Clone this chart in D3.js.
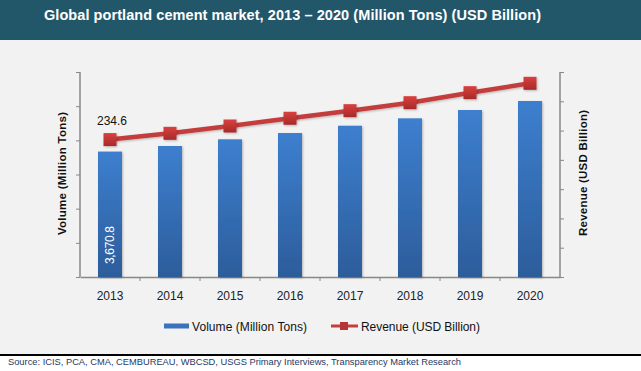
<!DOCTYPE html>
<html>
<head>
<meta charset="utf-8">
<script src="https://cdn.jsdelivr.net/npm/d3@7"></script>
<style>
  body { margin: 0; padding: 0; background: #fff; }
  svg { display: block; font-family: Arial, "Liberation Sans", sans-serif; }
</style>
</head>
<body>
<div id="chart-area"></div>
<script>
// chart data
const years = ["2013", "2014", "2015", "2016", "2017", "2018", "2019", "2020"];
const volume = [3670.8, 3834, 4030, 4214, 4428, 4644, 4887, 5151];
const revenue = [234.6, 245.3, 257.8, 271, 284, 297.6, 314.7, 330.7];
const volumeTicks = [0, 1000, 2000, 3000, 4000, 5000, 6000];
const revenueTicks = [0, 50, 100, 150, 200, 250, 300, 350];

const W = 641, H = 371;
const margin = {left: 80, right: 81, top: 72, bottom: 94};
const width = W - margin.left - margin.right;
const height = H - margin.top - margin.bottom;

const svg = d3.select("#chart-area").append("svg")
    .attr("width", W)
    .attr("height", H);

const defs = svg.append("defs");
const barGrad = defs.append("linearGradient").attr("id", "barGrad")
    .attr("x1", 0).attr("y1", 0).attr("x2", 0).attr("y2", 1);
barGrad.append("stop").attr("offset", "0%").attr("stop-color", "#3d7fcf");
barGrad.append("stop").attr("offset", "100%").attr("stop-color", "#2c5d9b");
const mkGrad = defs.append("linearGradient").attr("id", "mkGrad")
    .attr("x1", 0).attr("y1", 0).attr("x2", 0).attr("y2", 1);
mkGrad.append("stop").attr("offset", "0%").attr("stop-color", "#d9403f");
mkGrad.append("stop").attr("offset", "100%").attr("stop-color", "#a72a2a");
const shadow = defs.append("filter").attr("id", "shadow")
    .attr("x", "-30%").attr("y", "-30%").attr("width", "160%").attr("height", "160%");
shadow.append("feDropShadow").attr("dx", 1).attr("dy", 1).attr("stdDeviation", 1)
    .attr("flood-color", "#000").attr("flood-opacity", 0.25);

// backgrounds
svg.append("rect").attr("x", 0).attr("y", 0).attr("width", W).attr("height", 354).attr("fill", "#f2f2f2");
svg.append("rect").attr("x", 0).attr("y", 0).attr("width", W).attr("height", 40).attr("fill", "#22576a");
svg.append("rect").attr("x", 0).attr("y", 354).attr("width", W).attr("height", 2).attr("fill", "#000");

svg.append("text")
    .attr("x", 44).attr("y", 19.5)
    .attr("fill", "#fff")
    .attr("font-size", "14.5px")
    .attr("font-weight", "bold")
    .attr("textLength", 497)
    .text("Global portland cement market, 2013 \u2013 2020 (Million Tons) (USD Billion)");

svg.append("text")
    .attr("x", 8).attr("y", 364.5)
    .attr("fill", "#1f3864")
    .attr("font-size", "9.3px")
    .attr("textLength", 453)
    .text("Source: ICIS, PCA, CMA, CEMBUREAU, WBCSD, USGS Primary Interviews, Transparency Market Research");

const g = svg.append("g")
    .attr("transform", "translate(" + margin.left + ", " + margin.top + ")");

const x = d3.scaleBand().domain(years).range([0, width]).paddingInner(0.6).paddingOuter(0.3);
const xTicks = d3.scaleBand().domain(years).range([0, width]);
const yL = d3.scaleLinear().domain([0, 6000]).range([height, 0]);
const yR = d3.scaleLinear().domain([0, 350]).range([height, 0]);

// axes
const axL = g.append("g").attr("class", "left axis")
    .call(d3.axisLeft(yL).tickValues(volumeTicks).tickSize(4).tickFormat(""));
const axR = g.append("g").attr("class", "right axis")
    .attr("transform", "translate(" + width + ", 0)")
    .call(d3.axisRight(yR).tickValues(revenueTicks).tickSize(4).tickFormat(""));
const axB = g.append("g").attr("class", "bottom axis")
    .attr("transform", "translate(0, " + height + ")")
    .call(d3.axisBottom(xTicks).tickSize(0).tickPadding(14));
axB.selectAll("text").attr("font-size", "12px").attr("fill", "#222").attr("font-family", "Arial, 'Liberation Sans', sans-serif");
g.append("g").selectAll("line").data(years.slice(1))
    .enter().append("line")
    .attr("x1", d => xTicks(d)).attr("x2", d => xTicks(d))
    .attr("y1", height).attr("y2", height + 4)
    .attr("stroke", "#888");
[axL, axR, axB].forEach(a => {
    a.selectAll(".domain").attr("stroke", "#888").attr("stroke-width", 1.5);
    a.selectAll(".tick line").attr("stroke", "#888");
});
axL.select(".domain").attr("d", "M0," + height + "V0");
axR.select(".domain").attr("d", "M0," + height + "V0");

// bars
g.selectAll("rect.bar").data(volume)
    .enter().append("rect")
    .attr("class", "bar")
    .attr("x", (d, i) => x(years[i]))
    .attr("y", d => yL(d))
    .attr("width", x.bandwidth())
    .attr("height", d => height - yL(d))
    .attr("fill", "url(#barGrad)")
    .attr("filter", "url(#shadow)");

// bar label (first bar only)
g.append("text")
    .attr("transform", "translate(" + (x(years[0]) + x.bandwidth() / 2 + 3.5) + ", " + (height - 13) + ") rotate(-90)")
    .attr("fill", "#fff")
    .attr("font-size", "12px")
    .attr("textLength", 38)
    .text(d3.format(",.1f")(volume[0]));

// revenue line
const line = d3.line()
    .x((d, i) => x(years[i]) + x.bandwidth() / 2)
    .y(d => yR(d));
g.append("path").datum(revenue)
    .attr("d", line)
    .attr("fill", "none")
    .attr("stroke", "#c43e3c")
    .attr("stroke-width", 4.5)
    .attr("filter", "url(#shadow)");
g.selectAll("rect.mk").data(revenue)
    .enter().append("rect")
    .attr("class", "mk")
    .attr("x", (d, i) => x(years[i]) + x.bandwidth() / 2 - 6.5)
    .attr("y", d => yR(d) - 6.5)
    .attr("width", 13).attr("height", 13)
    .attr("fill", "url(#mkGrad)")
    .attr("filter", "url(#shadow)");

g.append("text")
    .attr("x", x(years[0]) + x.bandwidth() / 2 + 2)
    .attr("y", yR(revenue[0]) - 15)
    .attr("text-anchor", "middle")
    .attr("font-size", "12px")
    .attr("fill", "#111")
    .text(revenue[0]);

// axis titles
svg.append("text")
    .attr("transform", "translate(65.5, 173.5) rotate(-90)")
    .attr("text-anchor", "middle")
    .attr("font-size", "11.5px")
    .attr("font-weight", "bold")
    .attr("fill", "#111")
    .attr("textLength", 123)
    .text("Volume (Million Tons)");
svg.append("text")
    .attr("transform", "translate(587, 173) rotate(-90)")
    .attr("text-anchor", "middle")
    .attr("font-size", "11.5px")
    .attr("font-weight", "bold")
    .attr("fill", "#111")
    .attr("textLength", 126)
    .text("Revenue (USD Billion)");

// legend
const lg = svg.append("g").attr("transform", "translate(0, 326)");
lg.append("rect").attr("x", 164).attr("y", -2.5).attr("width", 25).attr("height", 5).attr("fill", "#3a72bd");
lg.append("text").attr("x", 192).attr("y", 4.5).attr("font-size", "12px").attr("fill", "#111")
    .attr("textLength", 115)
    .text("Volume (Million Tons)");
lg.append("line").attr("x1", 331).attr("x2", 358).attr("y1", 0).attr("y2", 0)
    .attr("stroke", "#c43e3c").attr("stroke-width", 3);
lg.append("rect").attr("x", 340).attr("y", -4).attr("width", 8).attr("height", 8).attr("fill", "#b83333");
lg.append("text").attr("x", 361).attr("y", 4.5).attr("font-size", "12px").attr("fill", "#111")
    .attr("textLength", 119)
    .text("Revenue (USD Billion)");
</script>
</body>
</html>
